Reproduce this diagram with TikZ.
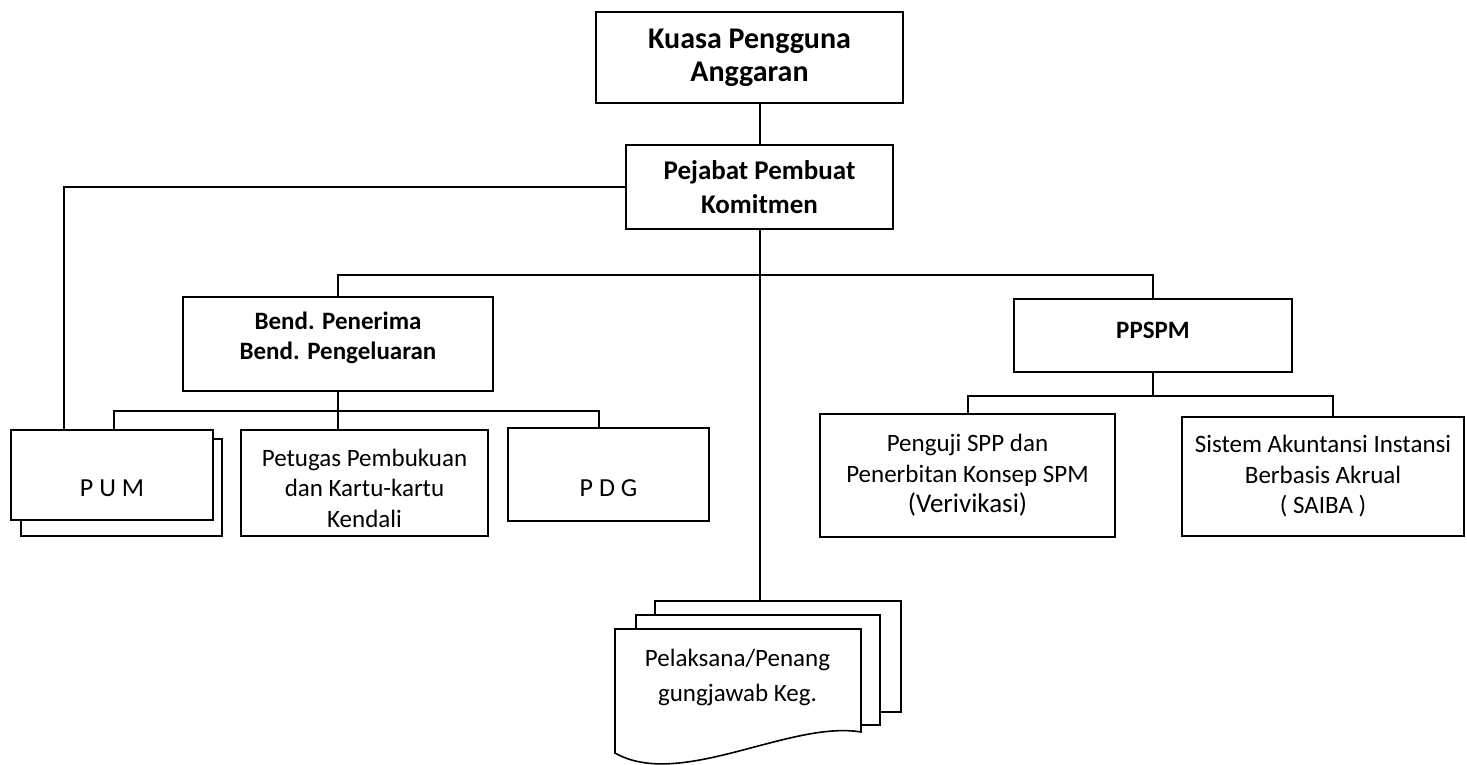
\documentclass[tikz,border=0pt]{standalone}
\usepackage{fontspec}
\setmainfont{Carlito}
\begin{document}
\begin{tikzpicture}[x=1pt,y=-1pt,
  ln/.style={line width=2pt},
  box/.style={draw, line width=1.6pt, fill=white, inner sep=0pt, align=center},
  reg/.style={font=\fontsize{25}{30.5}\selectfont},
  big/.style={font=\bfseries\fontsize{27}{33.5}\selectfont},
  huge/.style={font=\bfseries\fontsize{30}{33}\selectfont},
  mid/.style={font=\bfseries\fontsize{25}{30}\selectfont}]
\useasboundingbox (0,0) rectangle (1467,765);
% boxes
\node[box, minimum width=307pt, minimum height=91pt, huge] (kpa) at (749.5,57.5) {Kuasa Pengguna\\Anggaran};
\node[box, minimum width=267pt, minimum height=84pt, big] (ppk) at (759.5,187) {Pejabat Pembuat\\Komitmen};
\node[box, minimum width=310pt, minimum height=94pt] (bend) at (338,344) {};
\node[mid, align=center] (bendt) at (338,338) {Bend. Penerima\\Bend. Pengeluaran};
\node[box, minimum width=278pt, minimum height=73pt] (ppspm) at (1153,335.5) {};
\node[mid] (ppspmt) at (1153,330) {PPSPM};
\node[box, minimum width=295pt, minimum height=123pt, reg] (penguji) at (967.5,475.5) {Penguji SPP dan\\Penerbitan Konsep SPM\\{\fontsize{27}{30}\selectfont (Verivikasi)}};
\node[box, minimum width=282pt, minimum height=119pt, reg] (saiba) at (1323,476.5) {Sistem Akuntansi Instansi\\Berbasis Akrual\\( SAIBA )};
% PUM stacked
\node[box, minimum width=201pt, minimum height=97pt] (pumback) at (121.5,487.5) {};
\node[box, minimum width=202pt, minimum height=90pt] (pum) at (112,475) {};
\node[font=\fontsize{26}{30}\selectfont] (pumt) at (112,488) {P U M};
\node[box, minimum width=247pt, minimum height=106pt] (petugas) at (364.5,483) {};
\node[reg, align=center] (petugast) at (364.5,488) {Petugas Pembukuan\\dan Kartu-kartu\\Kendali};
\node[box, minimum width=201pt, minimum height=93pt] (pdg) at (608.5,474.5) {};
\node[font=\fontsize{26}{30}\selectfont] (pdgt) at (608.5,488) {P D G};
% multidocument
\coordinate (docTop) at (760,601);
\filldraw[line width=1.6pt, fill=white] (655,601) rectangle (901,712);
\filldraw[line width=1.6pt, fill=white] (636,615) rectangle (880,725);
\filldraw[line width=1.6pt, fill=white] (615,629) -- (861,629) -- (861,732)
  .. controls (790,720) and (680,790) .. (615,753) -- cycle;
\node[reg, align=center, font=\fontsize{25}{35}\selectfont] (pel) at (737.5,677.5) {Pelaksana/Penang\\gungjawab Keg.};
% connectors
\coordinate (busA) at (0,275);
\coordinate (busB) at (0,396);
\coordinate (busC) at (0,411);
\coordinate (pumA) at (114,411);
\coordinate (pdgA) at (599,411);
\coordinate (sbx) at (1333,396);
\coordinate (ppkL) at (64,187);
\coordinate (ctr) at (760,229);
\draw[ln] (ppk.north -| ctr) -- (ctr |- kpa.south);
\draw[ln] (ppk.west) -- (ppkL) -- (ppkL |- pum.north);
\draw[ln] (ctr) -- (docTop);
\draw[ln] (bend.north) -- (bend.north |- busA) -| (ppspm.north);
\draw[ln] (ppspm.south) -- (ppspm.south |- busB);
\draw[ln] (penguji.north) |- (sbx) -- (sbx |- saiba.north);
\draw[ln] (bend.south) -- (bend.south |- petugas.north);
\draw[ln] (pumA |- pum.north) -- (pumA) -- (pdgA) -- (pdgA |- pdg.north);
\end{tikzpicture}
\end{document}
